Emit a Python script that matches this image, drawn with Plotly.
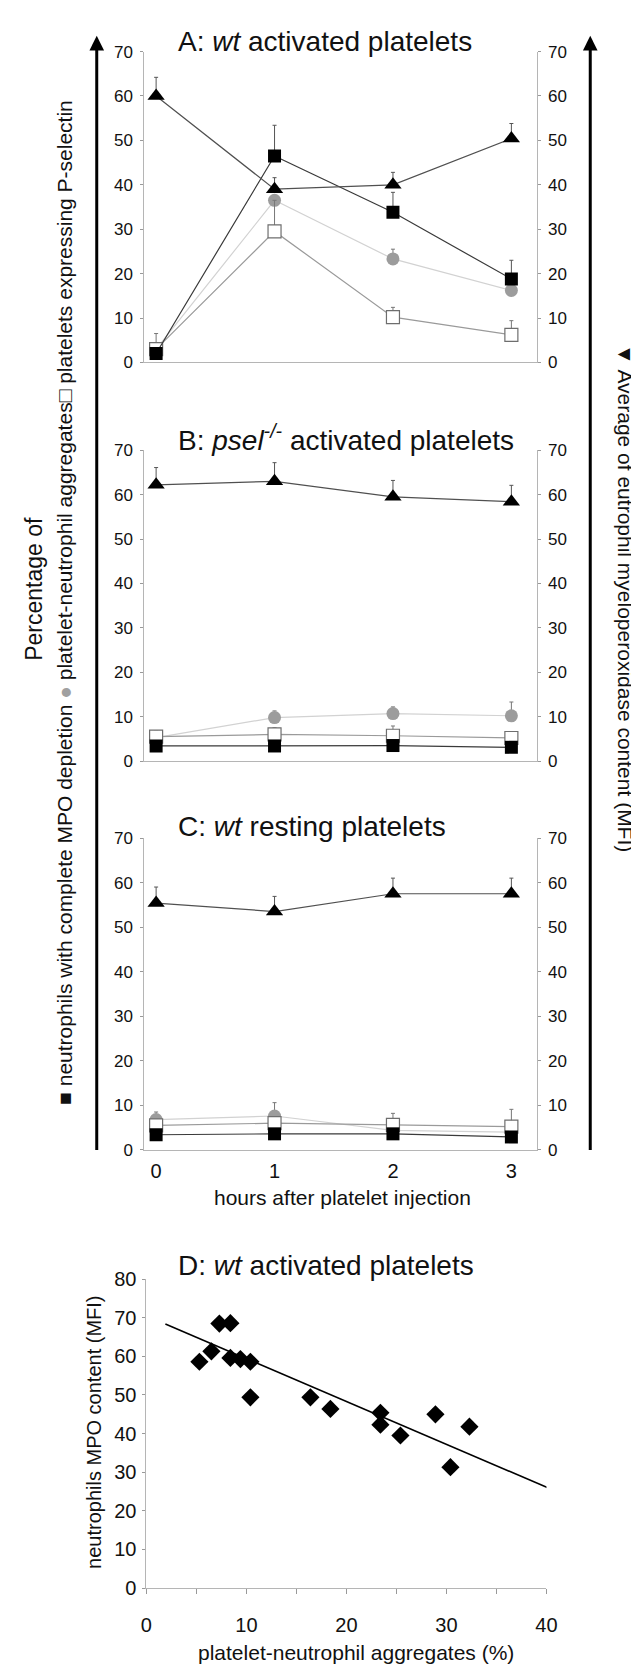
import plotly.graph_objects as go

# ---------------- data ----------------
hours = [0, 1, 2, 3]
hour_labels = ["0", "1", "2", "3"]

# Panel A: wt activated platelets
A_mpo_depleted = [2.0, 46.5, 33.8, 18.8]
A_mpo_depleted_err = [0, 6.9, 4.5, 4.2]
A_aggregates = [3.0, 36.5, 23.3, 16.2]
A_aggregates_err = [0, 0.8, 2.2, 0]
A_pselectin = [3.0, 29.5, 10.2, 6.2]
A_pselectin_err = [3.5, 7.0, 2.2, 3.2]
A_mfi = [60.0, 39.0, 40.0, 50.4]
A_mfi_err = [4.2, 2.6, 2.8, 3.4]

# Panel B: psel-/- activated platelets
B_mpo_depleted = [3.4, 3.4, 3.5, 3.1]
B_mpo_depleted_err = [0, 0, 0, 0]
B_aggregates = [5.3, 9.8, 10.7, 10.2]
B_aggregates_err = [0, 1.5, 1.5, 3.1]
B_pselectin = [5.5, 6.0, 5.7, 5.2]
B_pselectin_err = [1.3, 1.5, 2.2, 0]
B_mfi = [62.2, 63.0, 59.5, 58.4]
B_mfi_err = [3.9, 4.2, 3.7, 3.7]

# Panel C: wt resting platelets
C_mpo_depleted = [3.4, 3.6, 3.6, 2.9]
C_mpo_depleted_err = [0, 0, 0, 0]
C_aggregates = [6.8, 7.6, 4.4, 4.0]
C_aggregates_err = [1.7, 3.0, 3.8, 0]
C_pselectin = [5.5, 6.0, 5.6, 5.2]
C_pselectin_err = [0, 0, 0, 3.9]
C_mfi = [55.4, 53.5, 57.5, 57.5]
C_mfi_err = [3.6, 3.4, 3.5, 3.5]

# Panel D: scatter
D_aggregates = [5.3, 6.5, 7.3, 8.4, 8.4, 9.4, 10.4, 10.4, 16.4, 18.4, 23.4, 23.4, 25.4, 28.9, 30.4, 32.3]
D_mpo = [58.6, 61.3, 68.5, 68.6, 59.6, 59.3, 58.6, 49.4, 49.4, 46.4, 45.4, 42.3, 39.5, 45.0, 31.3, 41.8]
D_trend_x = [1.9, 41.0]
D_trend_y = [68.4, 25.0]

y_ticks_pct = [0, 10, 20, 30, 40, 50, 60, 70]
y_ticks_D = [0, 10, 20, 30, 40, 50, 60, 70, 80]
x_ticks_D = [0, 10, 20, 30, 40]

# ---------------- layout helpers ----------------
W, H = 639, 1667
FONT = "Liberation Sans, Arial, sans-serif"
TXT = "#111111"
AXC = "#b5b5b5"


def px(x):
    return x / W


def py(y):
    return 1 - y / H


fig = go.Figure()

panels = [
    ("x", "y", "y4", A_mpo_depleted, A_mpo_depleted_err, A_aggregates, A_aggregates_err,
     A_pselectin, A_pselectin_err, A_mfi, A_mfi_err),
    ("x2", "y2", "y5", B_mpo_depleted, B_mpo_depleted_err, B_aggregates, B_aggregates_err,
     B_pselectin, B_pselectin_err, B_mfi, B_mfi_err),
    ("x3", "y3", "y6", C_mpo_depleted, C_mpo_depleted_err, C_aggregates, C_aggregates_err,
     C_pselectin, C_pselectin_err, C_mfi, C_mfi_err),
]


def err(arr, color):
    return dict(type="data", symmetric=False, array=arr, arrayminus=[0] * len(arr),
                color=color, thickness=1, width=2)


for (xa, ya, yr, mpo, mpo_e, agg, agg_e, psel, psel_e, mfi, mfi_e) in panels:
    fig.add_trace(go.Scatter(
        x=hours, y=agg, xaxis=xa, yaxis=ya, mode="lines+markers",
        line=dict(color="#d2d2d2", width=1.2),
        marker=dict(symbol="circle", size=13, color="#9c9c9c"),
        error_y=err(agg_e, "#777777"), showlegend=False))
    fig.add_trace(go.Scatter(
        x=hours, y=psel, xaxis=xa, yaxis=ya, mode="lines+markers",
        line=dict(color="#9a9a9a", width=1.2),
        marker=dict(symbol="square", size=13, color="white", line=dict(color="#6e6e6e", width=1.2)),
        error_y=err(psel_e, "#777777"), showlegend=False))
    fig.add_trace(go.Scatter(
        x=hours, y=mpo, xaxis=xa, yaxis=ya, mode="lines+markers",
        line=dict(color="#3a3a3a", width=1.2),
        marker=dict(symbol="square", size=13, color="black"),
        error_y=err(mpo_e, "#555555"), showlegend=False))
    fig.add_trace(go.Scatter(
        x=hours, y=mfi, xaxis=xa, yaxis=yr, mode="lines+markers",
        line=dict(color="#505050", width=1.2),
        marker=dict(symbol="triangle-up", size=15, color="black"),
        error_y=err(mfi_e, "#555555"), showlegend=False))

# Panel D
fig.add_trace(go.Scatter(x=D_trend_x, y=D_trend_y, xaxis="x4", yaxis="y7", mode="lines",
                         line=dict(color="black", width=1.6), showlegend=False))
fig.add_trace(go.Scatter(x=D_aggregates, y=D_mpo, xaxis="x4", yaxis="y7", mode="markers",
                         marker=dict(symbol="diamond", size=14, color="black"), showlegend=False))

# axes
xdom = [px(134), px(537)]
xrange_h = [-0.0986, 3.214]
ydoms = [(348, 33), (752, 437), (1146, 830)]

layout = dict(
    width=W, height=H, margin=dict(l=0, r=0, t=0, b=0),
    paper_bgcolor="white", plot_bgcolor="white",
    font=dict(family=FONT, color=TXT),
    showlegend=False,
)

for i, (y0, y1) in enumerate(ydoms):
    n = i + 1
    xk = "xaxis" if n == 1 else f"xaxis{n}"
    yk = "yaxis" if n == 1 else f"yaxis{n}"
    rk = f"yaxis{n + 3}"
    xs = "x" if n == 1 else f"x{n}"
    ys = "y" if n == 1 else f"y{n}"
    last = (n == 3)
    xa_cfg = dict(
        domain=xdom, range=xrange_h, anchor=ys, showgrid=False, zeroline=False,
        showline=True, linecolor=AXC, linewidth=1, ticks="", ticklen=0,
        showticklabels=last,
    )
    if last:
        xa_cfg.update(tickvals=hours, ticktext=hour_labels,
                      tickfont=dict(size=20, color=TXT, family=FONT), ticklabelstandoff=3)
    else:
        xa_cfg.update(tickmode="array", tickvals=[])
    layout[xk] = xa_cfg
    common_y = dict(
        domain=[py(y0), py(y1)], range=[0, 70], showgrid=False, zeroline=False,
        showline=True, linecolor=AXC, linewidth=1, tickvals=y_ticks_pct,
        ticks="outside", ticklen=3, tickcolor="#999999", tickwidth=1,
        tickfont=dict(size=17, color=TXT, family=FONT), ticklabelstandoff=4,
    )
    layout[yk] = dict(common_y, anchor=xs, side="left")
    layout[rk] = dict(common_y, anchor=xs, side="right", overlaying=ys)

layout["xaxis4"] = dict(
    domain=[px(136), px(547)], range=[0, 40], anchor="y7", showgrid=False, zeroline=False,
    showline=True, linecolor=AXC, linewidth=1, tickvals=x_ticks_D,
    ticks="outside", ticklen=5, tickcolor="#999999",
    minor=dict(dtick=5, tick0=0, ticks="outside", ticklen=5, tickcolor="#999999", showgrid=False),
    tickfont=dict(size=20, color=TXT, family=FONT), ticklabelstandoff=14,
)
layout["yaxis7"] = dict(
    domain=[py(1590), py(1277)], range=[0, 80], anchor="x4", showgrid=False, zeroline=False,
    showline=True, linecolor=AXC, linewidth=1, tickvals=y_ticks_D,
    ticks="outside", ticklen=3, tickcolor="#999999",
    tickfont=dict(size=20, color=TXT, family=FONT), ticklabelstandoff=2,
)

fig.update_layout(**layout)

# ---------------- annotations ----------------
ann = []


def add_text(x, y, text, size, angle=0, xanchor="center", yanchor="middle"):
    ann.append(dict(x=px(x), y=py(y), xref="paper", yref="paper", text=text,
                    showarrow=False, textangle=angle, xanchor=xanchor, yanchor=yanchor,
                    font=dict(size=size, color=TXT, family=FONT)))


add_text(166, 23, "A: <i>wt</i> activated platelets", 28, xanchor="left")
add_text(166, 425, "B: <i>psel</i><sup><i>-/-</i></sup> activated platelets", 28, xanchor="left")
add_text(166, 818, "C: <i>wt</i> resting platelets", 28, xanchor="left")
add_text(166, 1263, "D: <i>wt</i> activated platelets", 28, xanchor="left")

add_text(337, 1194, "hours after platelet injection", 21)
add_text(351, 1655, "platelet-neutrophil aggregates (%)", 21)
add_text(82, 1432, "neutrophils MPO content (MFI)", 20, angle=-90)

add_text(21, 577, "Percentage of", 23, angle=-90)
add_text(52, 591,
         "■ neutrophils with complete MPO depletion "
         "<span style='color:#a0a0a0'>●</span> platelet-neutrophil aggregates□ platelets expressing P-selectin",
         21, angle=-90)
add_text(628, 587, "▼ Average of eutrophil myeloperoxidase content (MFI)", 21, angle=90)

fig.update_layout(annotations=ann)

# ---------------- arrows ----------------
shapes = []
for ax in (85, 592):
    shapes.append(dict(type="line", xref="paper", yref="paper",
                       x0=px(ax), x1=px(ax), y0=py(1146), y1=py(28),
                       line=dict(color="black", width=3)))
    path = (f"M {px(ax)} {py(17)} L {px(ax - 7.5)} {py(32)} "
            f"L {px(ax + 7.5)} {py(32)} Z")
    shapes.append(dict(type="path", xref="paper", yref="paper", path=path,
                       fillcolor="black", line=dict(color="black", width=0)))
fig.update_layout(shapes=shapes)

fig.write_html("out.html")
